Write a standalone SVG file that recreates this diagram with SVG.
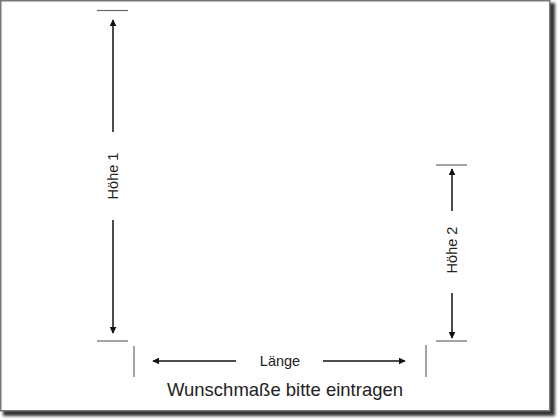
<svg xmlns="http://www.w3.org/2000/svg" width="560" height="420" viewBox="0 0 560 420">
<defs>
<style>
.tick{stroke:#666;stroke-width:1.2;fill:none}
.dim{stroke:#111;stroke-width:1.5;fill:none}
.lbl{font-family:"Liberation Sans",Arial,sans-serif;font-size:14.5px;fill:#222;text-anchor:middle}
.cap{font-family:"Liberation Sans",Arial,sans-serif;font-size:18.5px;fill:#222;text-anchor:middle}
</style>
<marker id="ah" viewBox="0 0 10 10" refX="9" refY="5" markerWidth="7" markerHeight="7" markerUnits="userSpaceOnUse" orient="auto">
<path d="M0,0 L10,5 L0,10 z" fill="#111"/>
</marker>
<filter id="sh" x="-5%" y="-5%" width="115%" height="115%">
<feGaussianBlur stdDeviation="1.5"/>
</filter>
</defs>
<rect width="560" height="420" fill="#fff"/>
<rect x="3" y="3" width="552" height="413" fill="#333" filter="url(#sh)"/>
<rect x="0.75" y="0.75" width="549" height="410" fill="#fff" stroke="#777" stroke-width="1.5"/>
<g id="connectors">
<line class="tick" x1="97" y1="10.5" x2="128" y2="10.5"/>
<line class="tick" x1="97" y1="341" x2="128" y2="341"/>
<line class="dim" x1="113" y1="132" x2="113" y2="20" marker-end="url(#ah)"/>
<line class="dim" x1="113" y1="220" x2="113" y2="333" marker-end="url(#ah)"/>
<line class="tick" x1="436" y1="165" x2="467" y2="165"/>
<line class="tick" x1="436" y1="341" x2="467" y2="341"/>
<line class="dim" x1="452" y1="211" x2="452" y2="169" marker-end="url(#ah)"/>
<line class="dim" x1="452" y1="293" x2="452" y2="338" marker-end="url(#ah)"/>
<line class="tick" x1="134" y1="346" x2="134" y2="377"/>
<line class="tick" x1="426" y1="345" x2="426" y2="377"/>
<line class="dim" x1="236" y1="361" x2="153" y2="361" marker-end="url(#ah)"/>
<line class="dim" x1="323" y1="361" x2="405" y2="361" marker-end="url(#ah)"/>
</g>
<g id="hoehe1"><text class="lbl" transform="translate(118,176) rotate(-90)">Höhe 1</text></g>
<g id="hoehe2"><text class="lbl" transform="translate(457,250) rotate(-90)">Höhe 2</text></g>
<g id="laenge"><text class="lbl" x="280" y="365.5">Länge</text></g>
<g id="caption"><text class="cap" x="285" y="395.5">Wunschmaße bitte eintragen</text></g>
</svg>
